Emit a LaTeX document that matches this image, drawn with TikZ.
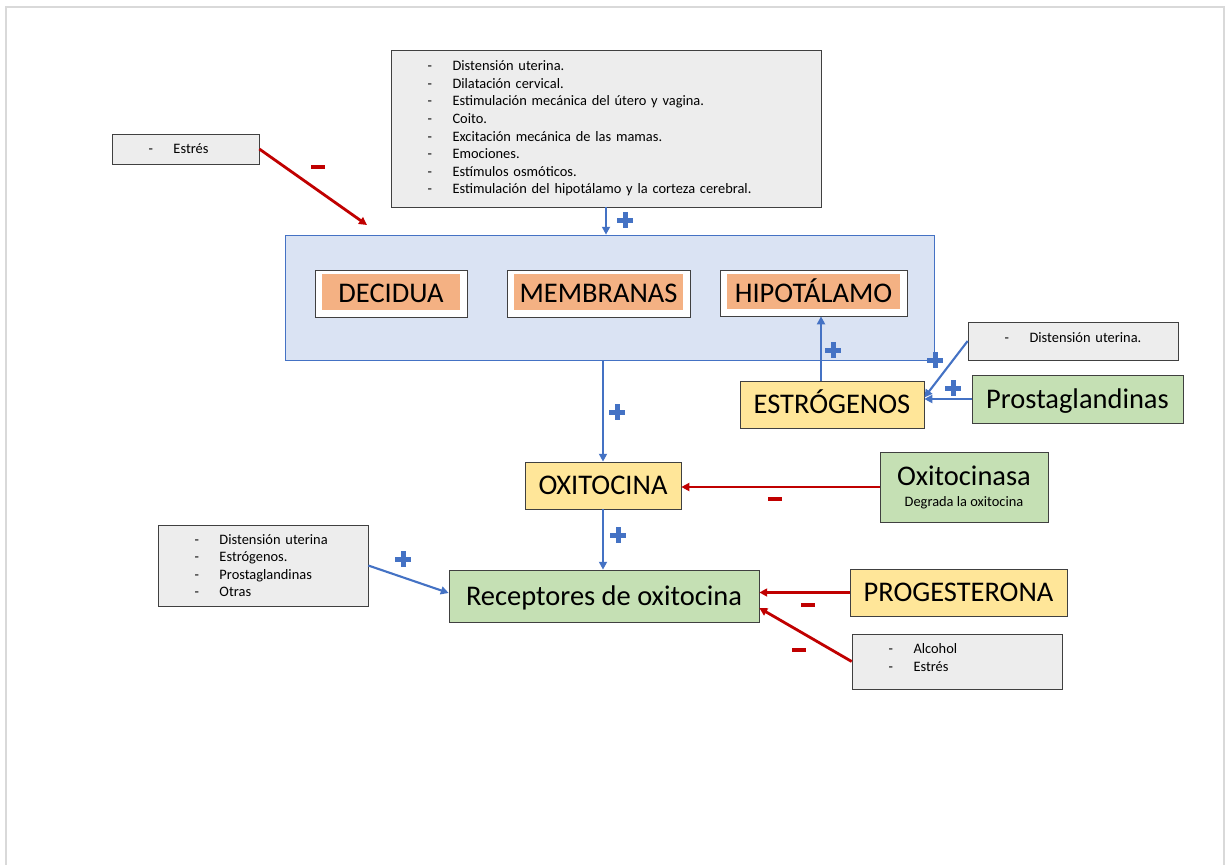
\documentclass[tikz,border=0pt]{standalone}
\usepackage{fontspec}
\setmainfont{Carlito}
\usetikzlibrary{arrows.meta,calc}
\definecolor{azul}{HTML}{4472C4}
\definecolor{rojo}{HTML}{C00000}
\definecolor{celeste}{HTML}{DAE3F3}
\definecolor{gris}{HTML}{EDEDED}
\definecolor{salmon}{HTML}{F4B183}
\definecolor{amarillo}{HTML}{FFE699}
\definecolor{verde}{HTML}{C5E0B4}
\newcommand{\li}[1]{\makebox[0.5cm][l]{-}#1}

\begin{document}
\begin{tikzpicture}[
  x=0.02cm, y=-0.02cm, >={Triangle[length=4.5pt,width=4.5pt]},
  big/.style={font=\fontsize{16.2}{19.4}\selectfont},
  oneline/.style={text height=12pt, text depth=1.6pt},
  small/.style={font=\fontsize{8.2}{10}\selectfont},
  list/.style={draw=black!75, fill=gris, align=left, inner xsep=0.73cm, small},
  hormone/.style={draw=black!75, fill=amarillo, big, oneline, inner sep=0pt},
  cell/.style={draw=black!75, fill=verde, big, inner sep=0pt, align=center},
  organ/.style={draw=black!75, fill=white, big, oneline, inner sep=0pt,
    path picture={\fill[salmon] ([shift={(0.14cm,-0.08cm)}]path picture bounding box.north west)
      rectangle ([shift={(-0.14cm,0.14cm)}]path picture bounding box.south east);}},
  excite/.style={->, azul, line width=1.2pt},
  inhibit/.style={->, rojo, line width=1.6pt},
  plus/.style={minimum size=0.32cm, inner sep=0pt,
    path picture={
      \fill[azul] ([shift={(-0.16cm,-0.05cm)}]path picture bounding box.center) rectangle ([shift={(0.16cm,0.05cm)}]path picture bounding box.center);
      \fill[azul] ([shift={(-0.05cm,-0.16cm)}]path picture bounding box.center) rectangle ([shift={(0.05cm,0.16cm)}]path picture bounding box.center);}},
  minus/.style={fill=rojo, minimum width=0.28cm, minimum height=0.07cm, inner sep=0pt},
]
\useasboundingbox (0,0) rectangle (1230,865);
\draw[black!15, line width=0.8pt] (6,865) |- (1224,7) -- (1224,865);

% stimuli lists
\node[list, minimum width=8.6cm, minimum height=3.14cm, text width=7.14cm] (causes) at (606,128.5)
  {\li{Distensión uterina.}\\ \li{Dilatación cervical.}\\ \li{Estimulación mecánica del útero y vagina.}\\
   \li{Coito.}\\ \li{Excitación mecánica de las mamas.}\\ \li{Emociones.}\\ \li{Estímulos osmóticos.}\\
   \li{Estimulación del hipotálamo y la corteza cerebral.}};
\node[list, minimum width=2.94cm, minimum height=0.6cm, text width=1.48cm] (estres) at (185.5,149) {\li{Estrés}};
\node[list, minimum width=4.2cm, minimum height=0.76cm, text width=2.74cm, text depth=4.5pt] (dist) at (1073,341) {\li{Distensión uterina.}};
\node[list, minimum width=4.2cm, minimum height=1.62cm, text width=2.74cm] (otros) at (263,565.5)
  {\li{Distensión uterina}\\ \li{Estrógenos.}\\ \li{Prostaglandinas}\\ \li{Otras}};
\node[list, minimum width=4.2cm, minimum height=1.1cm, text width=2.74cm, text depth=14.7pt] (alcohol) at (957,661.5)
  {\li{Alcohol}\\ \li{Estrés}};

% sources of oxytocin
\node[draw=azul, fill=celeste, minimum width=12.98cm, minimum height=2.5cm] (sources) at (609.5,297.5) {};
\node[organ, minimum width=3.04cm, minimum height=0.94cm] (decidua) at (391,293.5) {DECIDUA};
\node[organ, minimum width=3.66cm, minimum height=0.94cm] (membranas) at (598.5,293.5) {MEMBRANAS};
\node[organ, minimum width=3.74cm, minimum height=0.92cm] (hipotalamo) at (813.5,293) {HIPOTÁLAMO};

% hormones and receptors
\node[hormone, minimum width=3.68cm, minimum height=0.94cm] (estrogenos) at (832,404.5) {ESTRÓGENOS};
\node[cell, oneline, minimum width=4.22cm, minimum height=0.96cm] (prosta) at (1077.5,399) {Prostaglandinas};
\node[hormone, minimum width=3.12cm, minimum height=0.94cm] (oxitocina) at (603,485.5) {OXITOCINA};
\node[cell, minimum width=3.36cm, minimum height=1.4cm] (oxitocinasa) at (964,487)
  {Oxitocinasa\\[-7.5pt]{\fontsize{8.2}{10}\selectfont Degrada la oxitocina}};
\node[cell, oneline, minimum width=6.2cm, minimum height=1.04cm] (receptores) at (604,596) {Receptores de oxitocina};
\node[hormone, minimum width=4.34cm, minimum height=0.94cm] (progesterona) at (958.5,592.5) {PROGESTERONA};

\coordinate (estres-in) at (367,225);
\draw[inhibit] (estres.east) -- (estres-in);
\draw[excite] (causes.south) -- (causes.south |- sources.north);
\draw[excite] (oxitocina.north |- sources.south) -- (oxitocina.north);
\draw[excite] (oxitocina.south) -- (oxitocina.south |- receptores.north);
\draw[excite] (estrogenos.north) ++(-11,0) coordinate (e1) -- (e1 |- hipotalamo.south);
\draw[excite] (dist.west) -- ($(estrogenos.east)+(0,-7)$);
\draw[excite] (prosta.west) -- (prosta.west -| estrogenos.east);
\draw[inhibit] (oxitocinasa.west) -- (oxitocinasa.west -| oxitocina.east);
\draw[excite] (otros.east) -- ($(receptores.west)+(0,-3)$);
\draw[inhibit] (progesterona.west) -- (progesterona.west -| receptores.east);
\draw[inhibit] (alcohol.west) -- ($(receptores.east)+(0,12)$);

% signs
\node[minus] (m1) at (318,167) {};
\node[plus] (p1) at (625,220) {};
\node[plus] (p2) at (617,412) {};
\node[plus] (p3) at (833,350) {};
\node[plus] (p4) at (935,360) {};
\node[plus] (p5) at (953,388) {};
\node[minus] (m2) at (775,499) {};
\node[plus] (p6) at (618,535) {};
\node[plus] (p7) at (403,559) {};
\node[minus] (m3) at (808,605) {};
\node[minus] (m4) at (799,650) {};
\end{tikzpicture}
\end{document}
